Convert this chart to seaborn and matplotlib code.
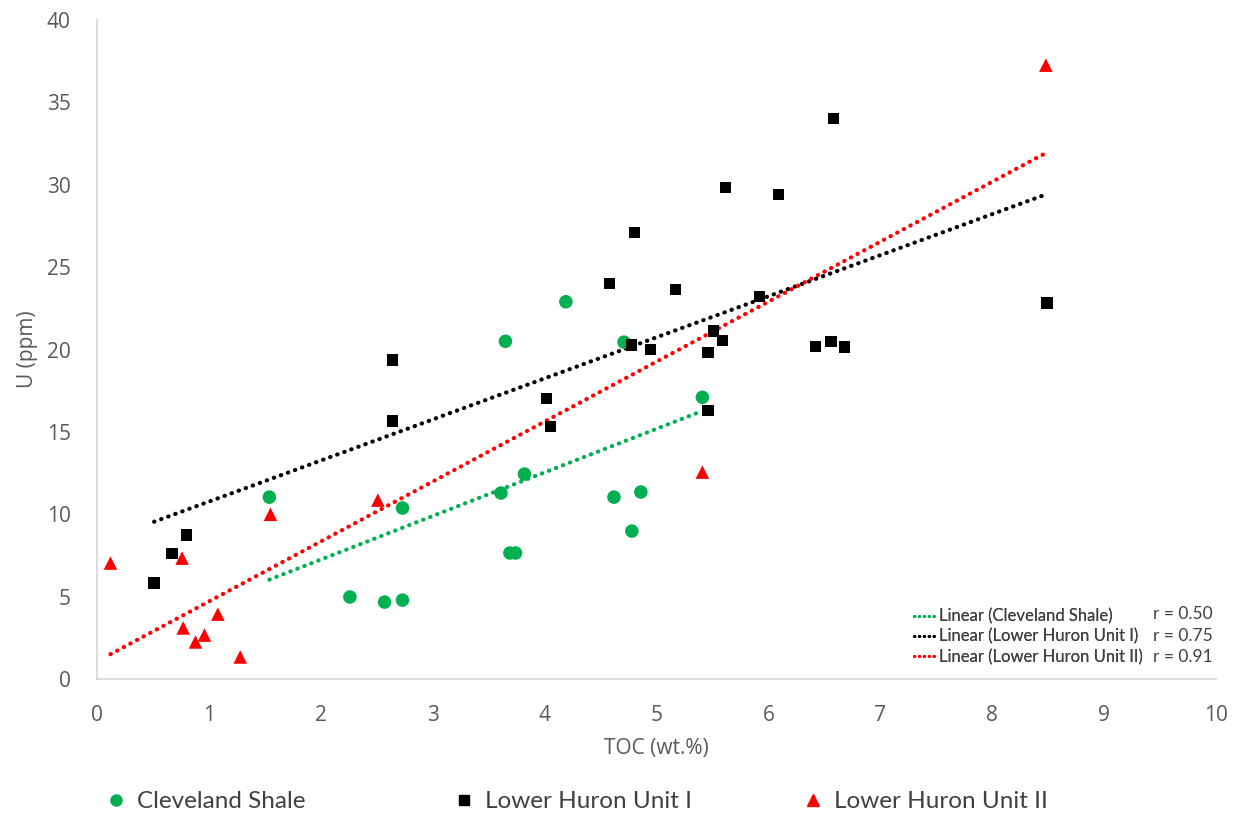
import matplotlib
matplotlib.use('Agg')
import matplotlib.pyplot as plt
from matplotlib.lines import Line2D
import pandas as pd
import seaborn as sns

# Cleveland Shale
cs_toc = [1.54, 2.26, 2.57, 2.73, 2.73, 3.61, 3.65, 3.69, 3.74, 3.82, 4.19, 4.62, 4.71, 4.78, 4.86, 5.41]
cs_u = [11.04, 4.98, 4.67, 4.79, 10.38, 11.29, 20.5, 7.65, 7.65, 12.44, 22.9, 11.04, 20.45, 8.98, 11.35, 17.1]

# Lower Huron Unit I
lh1_toc = [0.51, 0.67, 0.80, 2.64, 2.64, 4.02, 4.05, 4.58, 4.80, 4.78, 4.95, 5.17, 5.46, 5.46,
           5.51, 5.59, 5.62, 5.92, 6.09, 6.42, 6.56, 6.58, 6.68, 8.49]
lh1_u = [5.83, 7.6, 8.74, 19.36, 15.66, 17.05, 15.35, 24.03, 27.12, 20.27, 20.02, 23.66, 19.84, 16.32,
         21.12, 20.57, 29.85, 23.24, 29.43, 20.2, 20.5, 34.04, 20.15, 22.82]

# Lower Huron Unit II
lh2_toc = [0.12, 0.76, 1.55, 1.08, 0.77, 0.96, 0.88, 1.28, 2.51, 5.41, 8.48]
lh2_u = [7.04, 7.34, 10.0, 3.94, 3.1, 2.67, 2.25, 1.34, 10.86, 12.56, 37.26]

groups = ['Cleveland Shale', 'Lower Huron Unit I', 'Lower Huron Unit II']
r_values = ['r = 0.50', 'r = 0.75', 'r = 0.91']
colors = ['#00B050', '#000000', '#FF0000']
markers = ['o', 's', '^']
sizes = [95, 65, 95]

df = pd.concat([
    pd.DataFrame({'TOC': cs_toc, 'U': cs_u, 'group': groups[0]}),
    pd.DataFrame({'TOC': lh1_toc, 'U': lh1_u, 'group': groups[1]}),
    pd.DataFrame({'TOC': lh2_toc, 'U': lh2_u, 'group': groups[2]}),
])

sns.set_style('white')
plt.rcParams['font.family'] = ['Open Sans', 'DejaVu Sans']

fig, ax = plt.subplots(figsize=(12.39, 8.14), dpi=100)
fig.subplots_adjust(left=0.0783, right=0.9814, top=0.9754, bottom=0.1658)

dots = (0, (0.1, 1.7))

# scatter points
for g, c, m, s in zip(groups, colors, markers, sizes):
    sub = df[df['group'] == g]
    sns.scatterplot(data=sub, x='TOC', y='U', color=c, marker=m, s=s,
                    edgecolor='none', ax=ax, zorder=3)

# linear trend lines (dotted)
for g, c in zip(groups, colors):
    sub = df[df['group'] == g]
    sns.regplot(data=sub, x='TOC', y='U', scatter=False, ci=None, truncate=True, ax=ax,
                line_kws={'color': c, 'lw': 3.0, 'linestyle': dots,
                          'dash_capstyle': 'round', 'zorder': 2})

ax.set_xlim(0, 10)
ax.set_ylim(0, 40)
ax.set_xticks(range(0, 11))
ax.set_yticks(range(0, 41, 5))
ax.tick_params(axis='both', length=0, labelsize=15, labelcolor='#595959', pad=19)
ax.set_xlabel('TOC (wt.%)', fontsize=15, color='#595959', labelpad=8)
ax.set_ylabel('U (ppm)', fontsize=15, color='#595959', labelpad=6)

sns.despine(ax=ax)
for side in ['left', 'bottom']:
    ax.spines[side].set_color('#D9D9D9')
    ax.spines[side].set_linewidth(1.3)

# trendline legend inside the plot
line_handles = [Line2D([0], [0], color=c, lw=2.2, linestyle=(0, (0.1, 1.5)), dash_capstyle='round')
                for c in colors]
leg_in = ax.legend(line_handles, ['Linear (' + g + ')' for g in groups],
                   loc='lower right', bbox_to_anchor=(0.941, 0.011), frameon=False,
                   prop={'family': 'Lato', 'size': 12}, labelcolor='#404040',
                   handlelength=1.4, handletextpad=0.15, labelspacing=0.25, borderaxespad=0)
ax.add_artist(leg_in)
for i, r in enumerate(r_values):
    ax.text(0.997, 0.098 - i * 0.0325, r, transform=ax.transAxes, ha='right', va='center',
            fontsize=12.5, family='Lato', color='#404040')

# series legend below the plot, one entry per column slot
legend_x = [0.0936, 0.3745, 0.656]
for c, m, g, lx in zip(colors, markers, groups, legend_x):
    h = Line2D([0], [0], marker=m, color=c, linestyle='none', markersize=8 if m != 's' else 7)
    fig.legend([h], [g], loc='center left', bbox_to_anchor=(lx - 0.0097, 0.015),
               frameon=False, prop={'family': 'Lato', 'size': 17.5}, labelcolor='#404040',
               handlelength=1.0, handletextpad=0.35, borderpad=0, borderaxespad=0)

fig.savefig('out.png', dpi=100)
